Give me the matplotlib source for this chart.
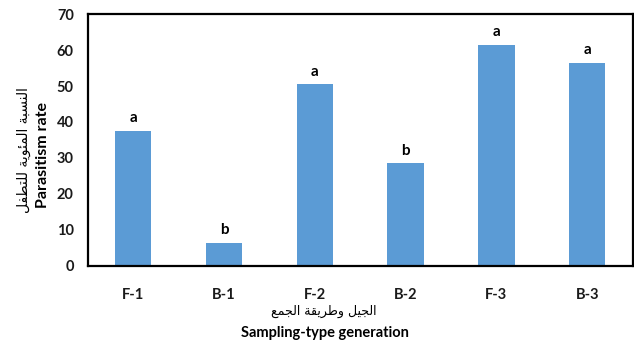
import matplotlib
matplotlib.use("Agg")
import matplotlib.pyplot as plt

# data
groups = ["F-1", "B-1", "F-2", "B-2", "F-3", "B-3"]
parasitism = [37.5, 6.4, 50.5, 28.5, 61.5, 56.5]
letters = ["a", "b", "a", "b", "a", "a"]
y_ticks = [0, 10, 20, 30, 40, 50, 60, 70]

ylabel_ar = "النسبة المئوية للتطفل"
ylabel_en = "Parasitism rate"
xlabel_ar = "الجيل وطريقة الجمع"
xlabel_en = "Sampling-type generation"

# matplotlib has no Arabic shaping, so map letters to their
# presentation forms (isolated, final, initial, medial) by hand
DUAL = {'ب': 0xFE8F, 'ت': 0xFE95, 'ج': 0xFE9D, 'س': 0xFEB1, 'ط': 0xFEC1,
        'ع': 0xFEC9, 'ف': 0xFED1, 'ق': 0xFED5, 'ل': 0xFEDD, 'م': 0xFEE1,
        'ن': 0xFEE5, 'ي': 0xFEF1, 'ئ': 0xFE89}
RIGHT = {'ا': 0xFE8D, 'ة': 0xFE93, 'ر': 0xFEAD, 'و': 0xFEED}


def shape_ar(text):
    out = []
    for i, ch in enumerate(text):
        base = DUAL.get(ch, RIGHT.get(ch))
        if base is None:
            out.append(ch)
            continue
        prev = text[i - 1] if i > 0 else ''
        nxt = text[i + 1] if i + 1 < len(text) else ''
        join_prev = prev in DUAL
        join_next = ch in DUAL and (nxt in DUAL or nxt in RIGHT)
        if join_prev and join_next:
            off = 3
        elif join_prev:
            off = 1
        elif join_next:
            off = 2
        else:
            off = 0
        out.append(chr(base + off))
    return ''.join(reversed(out))


latin = "Lato"
arabic = ["DejaVu Sans"]
bar_color = "#5B9BD5"

fig = plt.figure(figsize=(6.34, 3.45), dpi=100)
ax = fig.add_axes([0.1383, 0.2304, 0.8597, 0.7282])

x = range(len(groups))
bars = ax.bar(x, parasitism, width=0.4, color=bar_color, zorder=2)

for rect, val, lab in zip(bars, parasitism, letters):
    ax.annotate(lab, (rect.get_x() + rect.get_width() / 2, val),
                xytext=(0, 4), textcoords="offset points",
                ha="center", va="bottom", fontsize=11,
                fontweight="bold", family=latin)

ax.set_xlim(-0.5, len(groups) - 0.5)
ax.set_ylim(0, 70)
ax.set_yticks(y_ticks)
ax.set_xticks(list(x))
ax.set_xticklabels(groups)
ax.tick_params(axis="both", length=0, labelsize=10.5)
ax.tick_params(axis="y", pad=10)
ax.tick_params(axis="x", pad=16)
for t in ax.get_xticklabels() + ax.get_yticklabels():
    t.set_fontweight("bold")
    t.set_family(latin)
    t.set_color("#1a1a1a")

for s in ax.spines.values():
    s.set_linewidth(1.6)
    s.set_color("black")

# two-line axis titles (Arabic + English)
fig.text(24 / 634, 1 - 150 / 345, shape_ar(ylabel_ar), rotation=90,
         ha="center", va="center", fontsize=10, family=arabic)
fig.text(43 / 634, 1 - 155 / 345, ylabel_en, rotation=90,
         ha="center", va="center", fontsize=11.5, fontweight="bold",
         family=latin)
fig.text(324 / 634, 1 - 311 / 345, shape_ar(xlabel_ar),
         ha="center", va="center", fontsize=9, family=arabic)
fig.text(325 / 634, 1 - 333 / 345, xlabel_en,
         ha="center", va="center", fontsize=10.5, fontweight="bold",
         family=latin)

fig.savefig("out.png", dpi=100)
